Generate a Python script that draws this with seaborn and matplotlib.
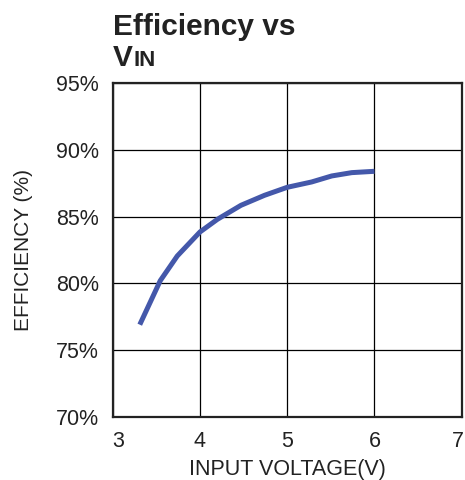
import matplotlib
matplotlib.use("Agg")
import matplotlib.pyplot as plt
import matplotlib.transforms as mtransforms
import pandas as pd
import seaborn as sns

# efficiency curve
vin = [3.31, 3.545, 3.74, 4.0, 4.2, 4.47, 4.74, 5.0, 5.28, 5.51, 5.74, 6.0]
efficiency = [76.9, 80.2, 82.05, 83.85, 84.8, 85.85, 86.6, 87.2, 87.6, 88.05, 88.3, 88.4]

x_ticks = [3, 4, 5, 6, 7]
y_ticks = [70, 75, 80, 85, 90, 95]
y_labels = [f"{v}%" for v in y_ticks]

df = pd.DataFrame({"vin": vin, "eff": efficiency})

sns.set_style("white")
plt.rcParams['font.family'] = ['Liberation Sans', 'DejaVu Sans']

fig = plt.figure(figsize=(4.65, 4.8), dpi=100)
ax = fig.add_axes([0.2424, 0.1319, 0.7505, 0.6946])

sns.lineplot(data=df, x="vin", y="eff", ax=ax, color="#4458AA", linewidth=3.6,
             solid_capstyle="butt")

ax.set_xlim(3, 7)
ax.set_ylim(70, 95)
ax.set_xticks(x_ticks)
ax.set_yticks(y_ticks)
ax.set_yticklabels(y_labels)
ax.tick_params(axis='both', length=0, labelsize=15.5, colors='#222222')
ax.tick_params(axis='x', pad=10)
ax.tick_params(axis='y', pad=10)
ax.grid(True, color='black', linewidth=0.9)
ax.set_axisbelow(True)
for s in ax.spines.values():
    s.set_color('#222222')
    s.set_linewidth(1.6)

# end labels sit a little inside the frame, like the original
xl = ax.get_xticklabels()
xl[0].set_transform(xl[0].get_transform() + mtransforms.ScaledTranslation(5/100, 0, fig.dpi_scale_trans))
xl[-1].set_transform(xl[-1].get_transform() + mtransforms.ScaledTranslation(-4/100, 0, fig.dpi_scale_trans))

ax.set_xlabel("INPUT VOLTAGE(V)", fontsize=15.5, color='#222222', labelpad=5)
ax.set_ylabel("EFFICIENCY (%)", fontsize=15, color='#222222', labelpad=16)

fig.text(0.243, 0.928, "Efficiency vs", fontsize=21.5, fontweight='bold', color='#222222')
fig.text(0.243, 0.862, "V", fontsize=21.5, fontweight='bold', color='#222222')
fig.text(0.288, 0.862, "IN", fontsize=16, fontweight='bold', color='#222222')

fig.savefig("out.png", dpi=100)
